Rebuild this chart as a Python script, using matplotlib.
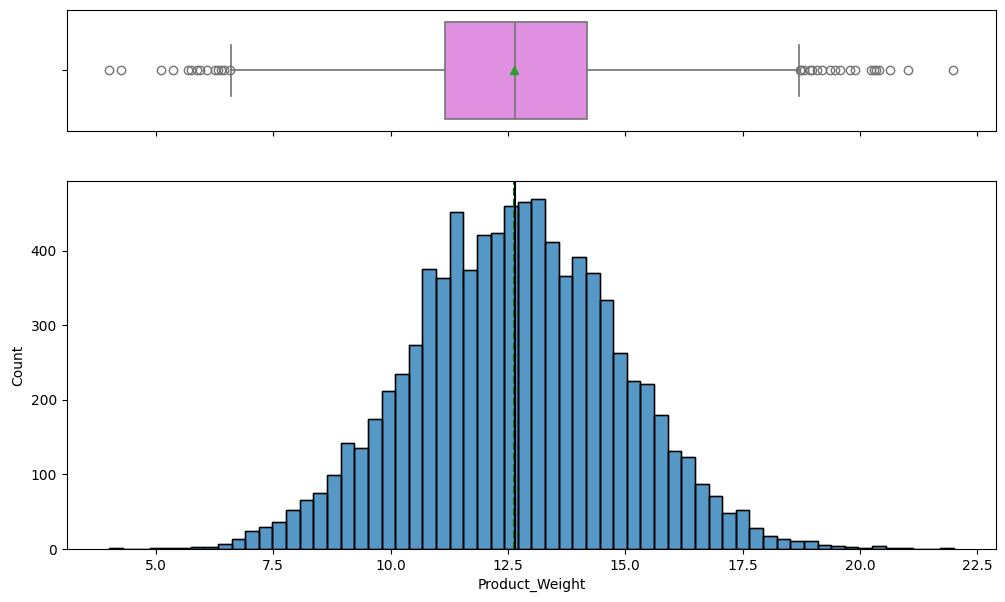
import numpy as np
import matplotlib
matplotlib.use("Agg")
import matplotlib.pyplot as plt

# ---- data ----
bin_start = 4.0
bin_end = 22.0
counts = [2, 0, 0, 1, 1, 2, 3, 3, 7, 13,
          24, 29, 36, 53, 66, 75, 99, 142, 135, 175,
          212, 235, 274, 376, 363, 452, 374, 421, 424, 460,
          465, 470, 412, 366, 392, 370, 334, 263, 225, 221,
          180, 131, 123, 87, 71, 48, 52, 28, 18, 14,
          11, 11, 6, 4, 3, 1, 4, 1, 1, 0,
          0, 1]

q1 = 11.15
median = 12.66
q3 = 14.18
whisker_low = 6.61
whisker_high = 18.71
mean = 12.63
low_outliers = [3.99, 4.26, 5.11, 5.37, 5.69, 5.75, 5.88, 5.94, 6.09, 6.26,
                6.33, 6.39, 6.45, 6.58]
high_outliers = [18.72, 18.75, 18.81, 18.94, 18.98, 19.09, 19.19, 19.36, 19.47,
                 19.58, 19.79, 19.90, 20.24, 20.30, 20.35, 20.41, 20.64, 21.03,
                 21.99]

xlabel = "Product_Weight"
ylabel = "Count"

# ---- figure ----
fig = plt.figure(figsize=(10.05, 6.02), dpi=100)
ax_box = fig.add_axes([0.0664, 0.7824, 0.9247, 0.201])
ax_hist = fig.add_axes([0.0664, 0.088, 0.9247, 0.6113], sharex=ax_box)

gray = "#737373"
stats = [dict(med=median, q1=q1, q3=q3, whislo=whisker_low, whishi=whisker_high,
              mean=mean, fliers=low_outliers + high_outliers)]
ax_box.bxp(stats, positions=[0], widths=0.8, vert=False, patch_artist=True,
           showmeans=True, capwidths=0.42,
           boxprops=dict(facecolor="#E090E0", edgecolor=gray, linewidth=1.2),
           medianprops=dict(color=gray, linewidth=1.2),
           whiskerprops=dict(color=gray, linewidth=1.2),
           capprops=dict(color=gray, linewidth=1.2),
           flierprops=dict(marker="o", markerfacecolor="none", markeredgecolor=gray,
                           markersize=6, markeredgewidth=1.0),
           meanprops=dict(marker="^", markerfacecolor="#2ca02c",
                          markeredgecolor="#2ca02c", markersize=6))
ax_box.set_ylim(0.5, -0.5)
ax_box.set_yticks([0])
ax_box.set_yticklabels([""])
ax_box.tick_params(axis="x", labelbottom=False)

edges = np.linspace(bin_start, bin_end, len(counts) + 1)
ax_hist.bar(edges[:-1], counts, width=np.diff(edges), align="edge",
            color="#1f77b4", alpha=0.75, edgecolor="black", linewidth=1.0)
# re-draw edges opaque
ax_hist.bar(edges[:-1], counts, width=np.diff(edges), align="edge",
            facecolor="none", edgecolor="black", linewidth=1.0)
ax_hist.axvline(mean, color="green", linestyle="--")
ax_hist.axvline(median, color="black", linestyle="-")
ax_hist.set_ylim(0, max(counts) * 1.05)
span = bin_end - bin_start
ax_hist.set_xlim(bin_start - 0.05 * span, bin_end + 0.05 * span)
ax_hist.set_xticks([5.0, 7.5, 10.0, 12.5, 15.0, 17.5, 20.0, 22.5])
ax_hist.set_xlabel(xlabel)
ax_hist.set_ylabel(ylabel)

fig.savefig("out.png", dpi=100)
